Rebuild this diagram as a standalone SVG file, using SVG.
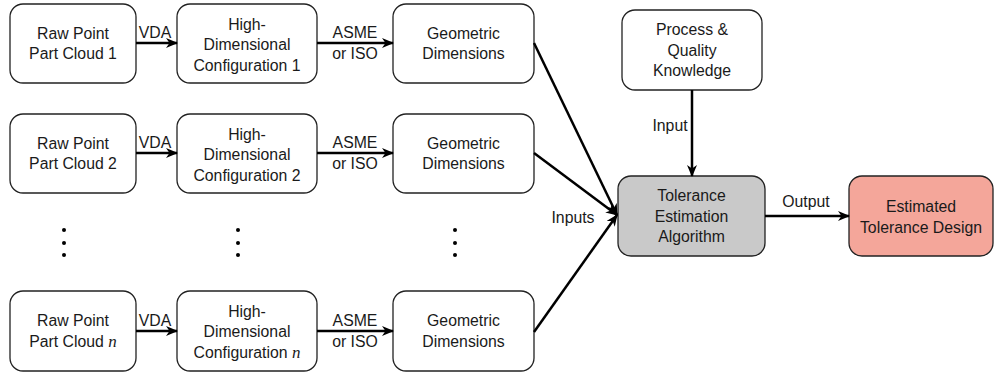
<svg xmlns="http://www.w3.org/2000/svg" width="994" height="375" viewBox="0 0 994 375">
<style>
.box{fill:#fff;stroke:#222;stroke-width:1.3}
.t{font-family:"Liberation Sans",Arial,sans-serif;font-size:15.8px;fill:#1a1a1a;text-anchor:middle}
.m{font-family:"Liberation Serif",serif;font-style:italic;font-size:17px}
.c{stroke:#000;stroke-width:2.5;fill:none;marker-end:url(#ah)}
</style>
<defs>
<marker id="ah" viewBox="0 0 12 10" refX="11" refY="5" markerWidth="12" markerHeight="10" markerUnits="userSpaceOnUse" orient="auto">
<path d="M0,0 L12,5 L0,10 L3.5,5 Z" fill="#000"/>
</marker>
</defs>
<rect width="994" height="375" fill="#fff"/>
<g id="raw1"><rect class="box" x="10" y="4" width="126" height="79" rx="13"/><text class="t" x="73" y="38.5">Raw Point</text><text class="t" x="73" y="59">Part Cloud 1</text></g>
<g id="hd1"><rect class="box" x="177" y="4" width="140" height="79" rx="13"/><text class="t" x="247" y="30">High-</text><text class="t" x="247" y="50">Dimensional</text><text class="t" x="247" y="70.5">Configuration 1</text></g>
<g id="geo1"><rect class="box" x="393" y="4" width="141" height="79" rx="13"/><text class="t" x="463.5" y="38.5">Geometric</text><text class="t" x="463.5" y="59">Dimensions</text></g>
<g id="raw2"><rect class="box" x="10" y="114" width="126" height="79" rx="13"/><text class="t" x="73" y="148.5">Raw Point</text><text class="t" x="73" y="169">Part Cloud 2</text></g>
<g id="hd2"><rect class="box" x="177" y="114" width="140" height="79" rx="13"/><text class="t" x="247" y="140">High-</text><text class="t" x="247" y="160">Dimensional</text><text class="t" x="247" y="180.5">Configuration 2</text></g>
<g id="geo2"><rect class="box" x="393" y="114" width="141" height="79" rx="13"/><text class="t" x="463.5" y="148.5">Geometric</text><text class="t" x="463.5" y="169">Dimensions</text></g>
<g id="raw3"><rect class="box" x="10" y="291" width="126" height="80" rx="13"/><text class="t" x="73" y="326">Raw Point</text><text class="t" x="73" y="347">Part Cloud <tspan class="m">n</tspan></text></g>
<g id="hd3"><rect class="box" x="177" y="291" width="140" height="80" rx="13"/><text class="t" x="247" y="317">High-</text><text class="t" x="247" y="337">Dimensional</text><text class="t" x="247" y="358">Configuration <tspan class="m">n</tspan></text></g>
<g id="geo3"><rect class="box" x="393" y="291" width="141" height="80" rx="13"/><text class="t" x="463.5" y="326">Geometric</text><text class="t" x="463.5" y="347">Dimensions</text></g>
<g id="process"><rect class="box" x="622" y="10" width="140" height="80" rx="13"/><text class="t" x="692" y="35">Process &amp;</text><text class="t" x="692" y="55.5">Quality</text><text class="t" x="692" y="76">Knowledge</text></g>
<g id="tolerance"><rect class="box" x="618" y="176" width="147" height="80" rx="13" style="fill:#c9c9c9"/><text class="t" x="691.5" y="201">Tolerance</text><text class="t" x="691.5" y="221.5">Estimation</text><text class="t" x="691.5" y="242">Algorithm</text></g>
<g id="estimated"><rect class="box" x="849" y="176" width="144" height="80" rx="13" style="fill:#f4a69a"/><text class="t" x="921" y="212">Estimated</text><text class="t" x="921" y="232.5">Tolerance Design</text></g>
<g id="dots" fill="#000">
<circle cx="64" cy="230" r="2"/><circle cx="64" cy="243" r="2"/><circle cx="64" cy="255" r="2"/>
<circle cx="238" cy="230" r="2"/><circle cx="238" cy="243" r="2"/><circle cx="238" cy="255" r="2"/>
<circle cx="455" cy="230" r="2"/><circle cx="455" cy="243" r="2"/><circle cx="455" cy="255" r="2"/>
</g>
<g id="connectors">
<line class="c" x1="136" y1="43" x2="177" y2="43"/>
<line class="c" x1="317" y1="43" x2="393" y2="43"/>
<line class="c" x1="136" y1="153" x2="177" y2="153"/>
<line class="c" x1="317" y1="153" x2="393" y2="153"/>
<line class="c" x1="136" y1="331" x2="177" y2="331"/>
<line class="c" x1="317" y1="331" x2="393" y2="331"/>
<line class="c" x1="534" y1="43" x2="617" y2="215"/>
<line class="c" x1="534" y1="153" x2="617" y2="215"/>
<line class="c" x1="534" y1="332" x2="617" y2="215"/>
<line class="c" x1="692" y1="90" x2="692" y2="176"/>
<line class="c" x1="765" y1="216" x2="849" y2="216"/>
<text class="t" x="155" y="38">VDA</text>
<text class="t" x="155" y="148">VDA</text>
<text class="t" x="155" y="326">VDA</text>
<text class="t" x="355" y="38">ASME</text><text class="t" x="355" y="59">or ISO</text>
<text class="t" x="355" y="148">ASME</text><text class="t" x="355" y="169">or ISO</text>
<text class="t" x="355" y="326">ASME</text><text class="t" x="355" y="347">or ISO</text>
<text class="t" x="573" y="223">Inputs</text>
<text class="t" x="670" y="131">Input</text>
<text class="t" x="806" y="207">Output</text>
</g>
</svg>
